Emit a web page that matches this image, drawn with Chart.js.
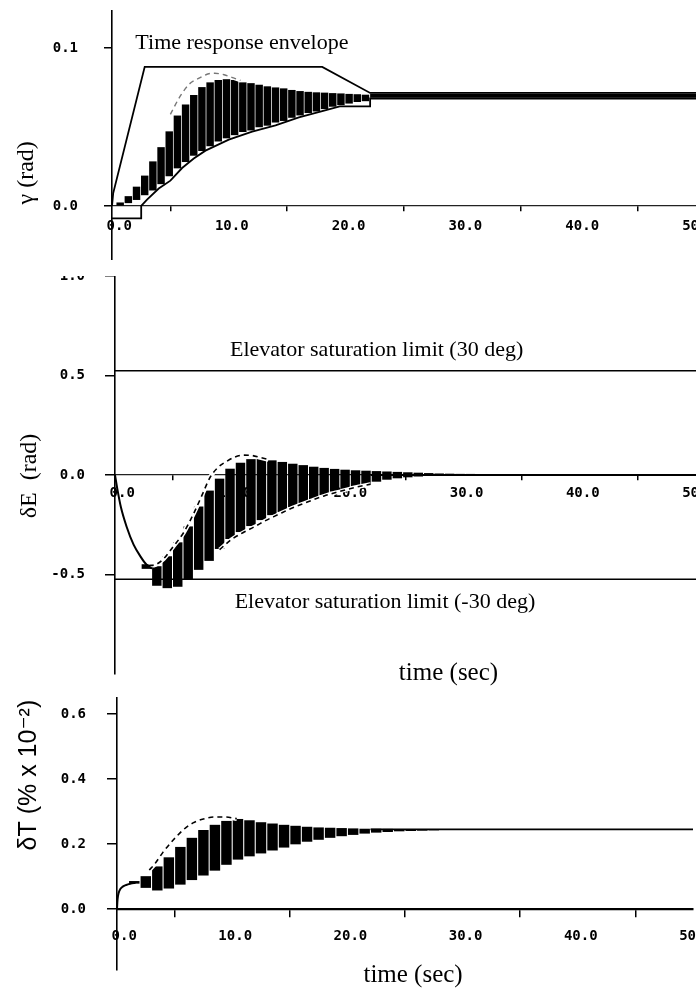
<!DOCTYPE html>
<html><head><meta charset="utf-8">
<script src="https://cdn.jsdelivr.net/npm/chart.js@4.4.0/dist/chart.umd.min.js"></script>
<style>
html,body{margin:0;padding:0;background:#fff;}
#wrap{position:relative;width:696px;height:989px;overflow:hidden;background:#fff;}
canvas{position:absolute;left:0;}
</style></head><body>
<div id="wrap">
<canvas id="c1" width="696" height="250" style="top:10px"></canvas>
<canvas id="c2" width="696" height="428" style="top:276px"></canvas>
<canvas id="c3" width="696" height="292" style="top:697px"></canvas>
</div>
<script>
// ---------- shared ticks ----------
const TIME_TICKS = [0, 10, 20, 30, 40, 50];
const GAMMA_TICKS = [0.0, 0.1];
const DE_TICKS = [1.0, 0.5, 0.0, -0.5];
const DT_TICKS = [0.0, 0.2, 0.4, 0.6];

// ---------- panel 1 : gamma (rad) ----------
const gEnvUpT = [0, 0.1, 2.8, 18.0, 22.1, 50];
const gEnvUpY = [0, 0.008, 0.088, 0.088, 0.0715, 0.0715];
const gEnvLoT = [0, 2.5, 2.5, 3.0, 4.0, 5.0, 6.0, 7.0, 8.0, 10.0, 12.0, 14.0, 16.0, 18.0, 19.5, 22.1, 22.1, 50];
const gEnvLoY = [-0.0078, -0.0078, 0, 0.004, 0.011, 0.016, 0.024, 0.030, 0.035, 0.042, 0.047, 0.051, 0.056, 0.060, 0.063, 0.063, 0.068, 0.068];
const gBandT  = [0.7, 1.4, 2.1, 2.8, 3.5, 4.2, 4.9, 5.6, 6.3, 7.0, 7.7, 8.4, 9.1, 9.8, 10.5, 11.2, 11.9, 12.6, 13.3, 14.0, 14.7, 15.4, 16.1, 16.8, 17.5, 18.2, 18.9, 19.6, 20.3, 21.0, 21.7];
const gBandLo = [0.000, 0.002, 0.004, 0.007, 0.010, 0.014, 0.019, 0.024, 0.028, 0.032, 0.035, 0.038, 0.041, 0.043, 0.045, 0.047, 0.048, 0.050, 0.051, 0.053, 0.054, 0.056, 0.0575, 0.059, 0.060, 0.0615, 0.063, 0.064, 0.065, 0.066, 0.0665];
const gBandHi = [0.002, 0.006, 0.012, 0.019, 0.028, 0.037, 0.047, 0.057, 0.064, 0.070, 0.075, 0.078, 0.0795, 0.080, 0.0795, 0.078, 0.0775, 0.0765, 0.0755, 0.0748, 0.0742, 0.0732, 0.0725, 0.072, 0.0717, 0.0715, 0.0712, 0.071, 0.0707, 0.0705, 0.0702];
const gDashT  = [5.0, 5.8, 6.6, 7.5, 8.2, 8.8, 9.6, 10.4, 11.0];
const gDashY  = [0.058, 0.069, 0.077, 0.081, 0.0835, 0.084, 0.083, 0.081, 0.0795];
const gTailT  = [22.1, 50];
const gTailY  = [0.0697, 0.0697];

// ---------- panel 2 : delta E (rad) ----------
const eInitT = [0, 0.2, 0.5, 1.0, 1.6, 2.2, 2.7, 3.2];
const eInitY = [0, -0.07, -0.16, -0.26, -0.35, -0.41, -0.45, -0.47];
const eBandT  = [2.7, 3.6, 4.5, 5.4, 6.3, 7.2, 8.1, 9.0, 9.9, 10.8, 11.7, 12.6, 13.5, 14.4, 15.3, 16.2, 17.1, 18.0, 18.9, 19.8, 20.7, 21.6, 22.5, 23.4, 24.3, 25.2, 26.1, 27.0, 27.9, 28.8, 29.7, 30.6];
const eBandLo = [-0.47, -0.555, -0.567, -0.56, -0.525, -0.475, -0.43, -0.37, -0.32, -0.285, -0.255, -0.225, -0.20, -0.185, -0.16, -0.14, -0.12, -0.10, -0.082, -0.068, -0.055, -0.043, -0.032, -0.022, -0.015, -0.010, -0.006, -0.003, -0.001, 0.0, 0.0, 0.0];
const eBandHi = [-0.45, -0.46, -0.41, -0.34, -0.26, -0.16, -0.08, -0.02, 0.03, 0.06, 0.078, 0.082, 0.072, 0.064, 0.055, 0.048, 0.040, 0.034, 0.029, 0.025, 0.022, 0.020, 0.018, 0.016, 0.014, 0.012, 0.010, 0.008, 0.006, 0.005, 0.004, 0.003];
const eDashUpT = [2.9, 3.5, 4.2, 5.0, 5.9, 6.8, 7.5, 8.2, 8.9, 9.6, 10.3, 11.0, 11.8, 12.5, 13.2];
const eDashUpY = [-0.455, -0.45, -0.42, -0.36, -0.29, -0.19, -0.10, -0.01, 0.04, 0.068, 0.09, 0.10, 0.098, 0.088, 0.078];
const eDashLoT = [9.0, 10.0, 11.0, 12.0, 13.0, 14.0, 15.0, 16.0, 17.0, 18.0, 19.0, 20.0, 21.0, 22.0];
const eDashLoY = [-0.375, -0.325, -0.29, -0.26, -0.228, -0.20, -0.172, -0.148, -0.126, -0.105, -0.088, -0.072, -0.058, -0.046];
const eSatT   = [0, 50];
const eSatUpY = [0.5236, 0.5236];
const eSatLoY = [-0.5236, -0.5236];
const eTailT  = [22, 50];
const eTailY  = [0, 0];

// ---------- panel 3 : delta T ----------
const tInitT = [0, 0.05, 0.15, 0.3, 0.5, 0.8, 1.2, 1.6];
const tInitY = [0, 0.03, 0.05, 0.062, 0.069, 0.074, 0.078, 0.081];
const tBandT  = [1.5, 2.5, 3.5, 4.5, 5.5, 6.5, 7.5, 8.5, 9.5, 10.5, 11.5, 12.5, 13.5, 14.5, 15.5, 16.5, 17.5, 18.5, 19.5, 20.5, 21.5, 22.5, 23.5, 24.5, 25.5, 26.5, 27.5];
const tBandLo = [0.079, 0.066, 0.058, 0.064, 0.076, 0.090, 0.104, 0.119, 0.137, 0.153, 0.163, 0.172, 0.181, 0.190, 0.200, 0.208, 0.214, 0.220, 0.225, 0.229, 0.233, 0.236, 0.238, 0.240, 0.241, 0.242, 0.243];
const tBandHi = [0.085, 0.100, 0.130, 0.158, 0.190, 0.218, 0.242, 0.258, 0.270, 0.276, 0.272, 0.266, 0.262, 0.258, 0.255, 0.252, 0.250, 0.249, 0.248, 0.247, 0.246, 0.246, 0.2455, 0.245, 0.245, 0.245, 0.245];
const tDashT = [2.8, 3.2, 4.0, 4.9, 5.8, 6.6, 7.5, 8.4, 9.4, 10.4];
const tDashY = [0.12, 0.135, 0.175, 0.213, 0.245, 0.265, 0.277, 0.283, 0.283, 0.278];
const tTailT = [22, 50];
const tTailY = [0.245, 0.245];

// ---------- helpers ----------
const TICK_FONT = {family: '"DejaVu Sans Mono", monospace', size: 14, weight: 'bold'};
const SERIF = '"Liberation Serif", "DejaVu Serif", serif';
const SANS = '"Liberation Sans", "DejaVu Sans", sans-serif';
const pts = (ts, ys) => ts.map((t, i) => ({x: t, y: ys[i]}));
const bars = (ts, lo, hi) => ts.map((t, i) => ({x: t, y: [lo[i], hi[i]]}));

function textPlugin(items) {
  return {
    id: 'textLabels',
    afterDraw(chart) {
      const ctx = chart.ctx;
      const xs = chart.scales.x, ys = chart.scales.y;
      items.forEach(it => {
        ctx.save();
        ctx.font = it.font;
        ctx.fillStyle = '#000';
        ctx.textAlign = it.align || 'left';
        ctx.textBaseline = 'middle';
        ctx.translate(xs.getPixelForValue(it.x), ys.getPixelForValue(it.y));
        if (it.rotate) ctx.rotate(it.rotate);
        ctx.fillText(it.text, 0, 0);
        ctx.restore();
      });
    }
  };
}

function xScale(o) {
  return {
    type: 'linear', min: 0, max: 50, offset: false,
    position: {y: 0},
    afterBuildTicks: s => { s.ticks = TIME_TICKS.map(v => ({value: v})); },
    afterFit: s => { s.paddingLeft = 0; s.paddingRight = 0; },
    ticks: {font: TICK_FONT, color: '#000', padding: o.labelPad, maxRotation: 0, autoSkip: false,
            labelOffset: 3,
            callback: v => (Number(v) === 0 ? ' ' : '') + Number(v).toFixed(1)},
    grid: {drawOnChartArea: false, drawTicks: true, tickLength: o.tickLen, color: '#000', lineWidth: 1.5},
    border: {display: true, color: o.borderColor, width: o.borderWidth, dash: o.dash || []}
  };
}
function yScale(o) {
  return {
    type: 'linear', min: o.min, max: o.max, position: 'left',
    afterBuildTicks: s => { s.ticks = o.ticks.map(v => ({value: v})); },
    afterFit: s => { s.width = o.width; s.paddingTop = 0; s.paddingBottom = 0; },
    ticks: {font: TICK_FONT, color: '#000', padding: o.labelPad, autoSkip: false,
            callback: v => Number(v).toFixed(1)},
    grid: {drawOnChartArea: false, drawTicks: true, tickLength: o.tickLen, color: '#000', lineWidth: 1.5},
    border: {display: true, color: '#000', width: 1.6}
  };
}
const line = (data, extra) => Object.assign({type: 'line', data, borderColor: '#000', borderWidth: 1.6,
  pointRadius: 0, fill: false, tension: 0}, extra || {});
const barSet = (data, thick) => ({type: 'bar', data, backgroundColor: '#000', borderWidth: 0,
  barThickness: thick, grouped: false, order: 20});
const baseOpts = (xs, ys, padding) => ({
  responsive: false, animation: false, devicePixelRatio: 1, events: [],
  layout: {padding},
  plugins: {legend: {display: false}, tooltip: {enabled: false}},
  scales: {x: xs, y: ys}
});

Chart.defaults.color = '#000';

// ---------- chart 1 ----------
new Chart(document.getElementById('c1'), {
  type: 'line',
  data: {datasets: [
    line(pts(gEnvUpT, gEnvUpY), {order: 1, borderWidth: 1.8}),
    line(pts(gEnvLoT, gEnvLoY), {order: 1, borderWidth: 1.8}),
    line(pts(gTailT, gTailY), {order: 2, borderWidth: 4}),
    line(pts(gDashT, gDashY), {order: 3, borderColor: '#777', borderDash: [5, 4], borderWidth: 1.4, cubicInterpolationMode: 'monotone'}),
    line(pts(gDashT, gDashY), {order: 4, borderColor: '#fff', borderWidth: 4, cubicInterpolationMode: 'monotone'}),
    barSet(bars(gBandT, gBandLo, gBandHi), 6.8)
  ]},
  options: baseOpts(
    xScale({labelPad: 7, tickLen: 5, borderColor: '#222', borderWidth: 1.3, dash: [10, 3, 2, 3]}),
    yScale({min: -0.0342, max: 0.1240, ticks: GAMMA_TICKS, width: 112, tickLen: 8, labelPad: 26}),
    0),
  plugins: [textPlugin([
    {text: 'Time response envelope', x: 2.0, y: 0.103, font: '22px ' + SERIF},
    {text: 'γ (rad)', x: -7.3, y: 0.021, font: '24px ' + SERIF, align: 'center', rotate: -Math.PI / 2}
  ])]
});

// ---------- chart 2 ----------
new Chart(document.getElementById('c2'), {
  type: 'line',
  data: {datasets: [
    line(pts(eInitT, eInitY), {order: 1, borderWidth: 2, cubicInterpolationMode: 'monotone'}),
    line(pts(eSatT, eSatUpY), {order: 1}),
    line(pts(eSatT, eSatLoY), {order: 1}),
    line(pts(eTailT, eTailY), {order: 2, borderWidth: 1.8}),
    line(pts(eDashUpT, eDashUpY), {order: 3, borderDash: [5, 4], borderWidth: 1.6, cubicInterpolationMode: 'monotone'}),
    line(pts(eDashUpT, eDashUpY), {order: 4, borderColor: '#fff', borderWidth: 4.5, cubicInterpolationMode: 'monotone'}),
    line(pts(eDashLoT, eDashLoY), {order: 3, borderDash: [5, 4], borderWidth: 1.6, cubicInterpolationMode: 'monotone'}),
    line(pts(eDashLoT, eDashLoY), {order: 4, borderColor: '#fff', borderWidth: 4, cubicInterpolationMode: 'monotone'}),
    barSet(bars(eBandT, eBandLo, eBandHi), 8.8)
  ]},
  options: baseOpts(
    xScale({labelPad: 5, tickLen: 5, borderColor: '#222', borderWidth: 1.3, dash: [10, 3, 2, 3]}),
    yScale({min: -1.0, max: 1.0, ticks: DE_TICKS, width: 115, tickLen: 10, labelPad: 20}),
    {top: 0, left: 0, right: 0, bottom: 30}),
  plugins: [textPlugin([
    {text: 'Elevator saturation limit (30 deg)', x: 9.9, y: 0.628, font: '22px ' + SERIF},
    {text: 'Elevator saturation limit (-30 deg)', x: 10.3, y: -0.638, font: '22px ' + SERIF},
    {text: 'time (sec)', x: 28.7, y: -0.995, font: '25px ' + SERIF, align: 'center'},
    {text: 'δE  (rad)', x: -7.3, y: -0.005, font: '24px ' + SERIF, align: 'center', rotate: -Math.PI / 2}
  ])]
});

// ---------- chart 3 ----------
new Chart(document.getElementById('c3'), {
  type: 'line',
  data: {datasets: [
    line(pts(tInitT, tInitY), {order: 1, borderWidth: 2, cubicInterpolationMode: 'monotone'}),
    line(pts(tTailT, tTailY), {order: 2, borderWidth: 1.8}),
    line(pts(tDashT, tDashY), {order: 3, borderDash: [5, 4], borderWidth: 1.6, cubicInterpolationMode: 'monotone'}),
    line(pts(tDashT, tDashY), {order: 4, borderColor: '#fff', borderWidth: 4.5, cubicInterpolationMode: 'monotone'}),
    barSet(bars(tBandT, tBandLo, tBandHi), 9.8)
  ]},
  options: baseOpts(
    xScale({labelPad: 12, tickLen: 7, borderColor: '#000', borderWidth: 2.2}),
    yScale({min: -0.1877, max: 0.6523, ticks: DT_TICKS, width: 117, tickLen: 10, labelPad: 21}),
    {top: 0, left: 0, right: 3, bottom: 19}),
  plugins: [textPlugin([
    {text: 'δT (% x 10⁻²)', x: -7.64, y: 0.412, font: '25px ' + SANS, align: 'center', rotate: -Math.PI / 2},
    {text: 'time (sec)', x: 25.7, y: -0.203, font: '25px ' + SERIF, align: 'center'}
  ])]
});
</script>
</body></html>
